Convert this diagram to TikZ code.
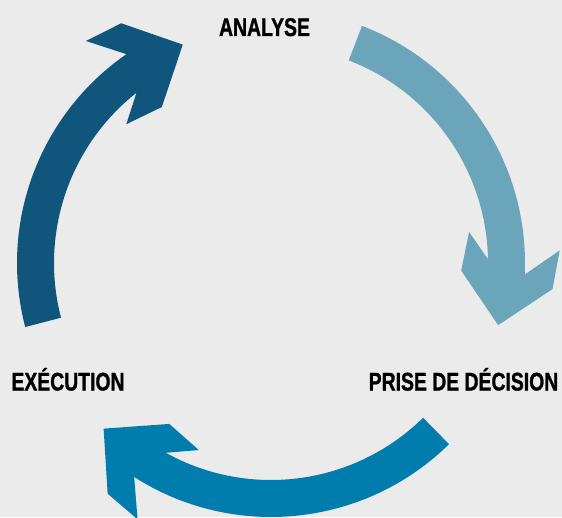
\documentclass[tikz,border=0pt]{standalone}
\usepackage{fontspec}
\newfontfamily\condfont[FakeStretch=0.76,BoldFeatures={FakeBold=1}]{Liberation Sans}
\definecolor{bg}{HTML}{EBEBEB}
\definecolor{arrowdark}{HTML}{10567C}
\definecolor{arrowlight}{HTML}{6BA5BA}
\definecolor{arrowmid}{HTML}{007DAC}
\newcommand{\drawcyclearrow}[3]{%
  \fill[#3] (#1:254) arc[start angle=#1, end angle={#2+12.7}, radius=254]
    -- ({#2+17.8}:289) -- ({#2+10}:282.7) -- (#2:235.5)
    -- ({#2+13}:190.4) -- ({#2+24.2}:200.5) -- ({#2+16.3}:217)
    arc[start angle={#2+16.3}, end angle=#1, radius=217] -- cycle;}
\begin{document}
\begin{tikzpicture}[x=1pt,y=1pt,
  label/.style={font=\condfont\bfseries\fontsize{25.5}{30}\selectfont, text=black, inner sep=0pt, anchor=base}]
\fill[bg] (0,0) rectangle (562,517);
\useasboundingbox (0,0) rectangle (562,517);
\begin{scope}
\clip (0,0) rectangle (562,517);
\begin{scope}[shift={(271,254)}]
  \drawcyclearrow{194.6}{112.0}{arrowdark}
  \drawcyclearrow{69.0}{-15.3}{arrowlight}
  \drawcyclearrow{314.5}{224.7}{arrowmid}
\end{scope}
\end{scope}
\node[label] (analyse) at (264.5,481) {ANALYSE};
\node[label] (execution) at (68,126.5) {EXÉCUTION};
\node[label] (decision) at (463.5,126.5) {PRISE DE DÉCISION};
\end{tikzpicture}
\end{document}
